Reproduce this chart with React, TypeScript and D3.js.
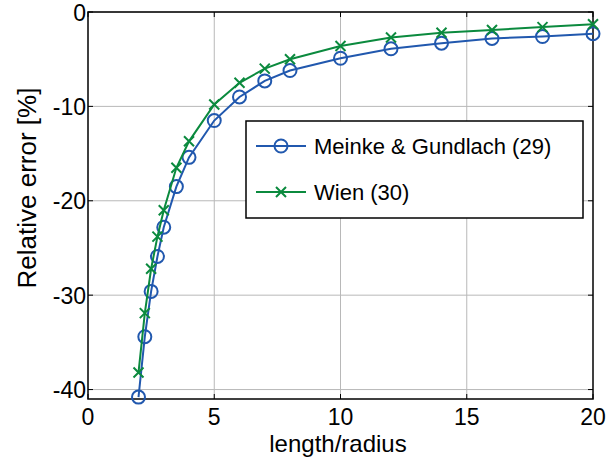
import React, { useEffect, useRef } from 'react';
import * as d3 from 'd3';

const ratios = [2, 2.25, 2.5, 2.75, 3, 3.5, 4, 5, 6, 7, 8, 10, 12, 14, 16, 18, 20];
const meinkeErr = [-40.8, -34.4, -29.6, -25.9, -22.8, -18.5, -15.4, -11.5, -9.0, -7.3, -6.2, -4.9, -3.9, -3.3, -2.8, -2.6, -2.3];
const wienErr = [-38.2, -31.9, -27.2, -23.8, -21.0, -16.5, -13.7, -9.8, -7.5, -6.0, -5.0, -3.6, -2.7, -2.2, -1.9, -1.6, -1.3];
const xTicks = [0, 5, 10, 15, 20];
const yTicks = [0, -10, -20, -30, -40];
const seriesNames = ['Meinke & Gundlach (29)', 'Wien (30)'];

const width = 616;
const height = 461;
const blue = '#2158ae';
const green = '#0b8a3e';
const font = '"Liberation Sans", Arial, sans-serif';

function App() {
  const ref = useRef<SVGSVGElement>(null);

  useEffect(() => {
    const svg = d3.select(ref.current);
    svg.selectAll('*').remove();

    const left = 88, right = 593, top = 12, bottom = 399;
    const x = d3.scaleLinear().domain([0, 20]).range([left, right]);
    const y = d3.scaleLinear().domain([-41, 0]).range([bottom, top]);

    svg.append('rect').attr('width', width).attr('height', height).attr('fill', 'white');

    // grid
    const grid = svg.append('g').attr('stroke', '#b8b8b8').attr('stroke-width', 1);
    xTicks.slice(1, -1).forEach((t) => {
      grid.append('line').attr('x1', x(t)).attr('x2', x(t)).attr('y1', top).attr('y2', bottom);
    });
    yTicks.forEach((t) => {
      grid.append('line').attr('x1', left).attr('x2', right).attr('y1', y(t)).attr('y2', y(t));
    });

    // ticks on all four sides, pointing in
    const ticks = svg.append('g').attr('stroke', 'black').attr('stroke-width', 1);
    xTicks.forEach((t) => {
      ticks.append('line').attr('x1', x(t)).attr('x2', x(t)).attr('y1', bottom).attr('y2', bottom - 5);
      ticks.append('line').attr('x1', x(t)).attr('x2', x(t)).attr('y1', top).attr('y2', top + 5);
    });
    yTicks.forEach((t) => {
      ticks.append('line').attr('x1', left).attr('x2', left + 5).attr('y1', y(t)).attr('y2', y(t));
      ticks.append('line').attr('x1', right).attr('x2', right - 5).attr('y1', y(t)).attr('y2', y(t));
    });

    svg.append('rect')
      .attr('x', left).attr('y', top)
      .attr('width', right - left).attr('height', bottom - top)
      .attr('fill', 'none').attr('stroke', 'black').attr('stroke-width', 1.5);

    // tick labels
    svg.append('g').selectAll('text').data(xTicks).enter().append('text')
      .attr('x', (d) => x(d)).attr('y', 425)
      .attr('text-anchor', 'middle')
      .style('font', '23px ' + font)
      .text((d) => d);

    svg.append('g').selectAll('text').data(yTicks).enter().append('text')
      .attr('x', left - 2).attr('y', (d) => y(d) + 8.5)
      .attr('text-anchor', 'end')
      .style('font', '23px ' + font)
      .text((d) => d);

    svg.append('text')
      .attr('x', 338).attr('y', 452)
      .attr('text-anchor', 'middle')
      .style('font', '24px ' + font)
      .text('length/radius');

    svg.append('text')
      .attr('transform', 'translate(36,188) rotate(-90)')
      .attr('text-anchor', 'middle')
      .style('font', '26px ' + font)
      .text('Relative error [%]');

    const line = d3.line<[number, number]>().x((d) => x(d[0])).y((d) => y(d[1]));
    const blueData = ratios.map((r, i) => [r, meinkeErr[i]] as [number, number]);
    const greenData = ratios.map((r, i) => [r, wienErr[i]] as [number, number]);

    const drawCross = (g: any, cx: number, cy: number, color: string) => {
      const s = 5;
      g.append('path')
        .attr('d', `M${cx - s},${cy - s}L${cx + s},${cy + s}M${cx - s},${cy + s}L${cx + s},${cy - s}`)
        .attr('stroke', color).attr('stroke-width', 2).attr('fill', 'none');
    };
    const drawCircle = (g: any, cx: number, cy: number, color: string) => {
      g.append('circle').attr('cx', cx).attr('cy', cy).attr('r', 6.5)
        .attr('stroke', color).attr('stroke-width', 2).attr('fill', 'none');
    };

    const plot = svg.append('g');
    plot.append('path').datum(blueData).attr('d', line).attr('fill', 'none')
      .attr('stroke', blue).attr('stroke-width', 2);
    blueData.forEach((d) => drawCircle(plot, x(d[0]), y(d[1]), blue));

    plot.append('path').datum(greenData).attr('d', line).attr('fill', 'none')
      .attr('stroke', green).attr('stroke-width', 2);
    greenData.forEach((d) => drawCross(plot, x(d[0]), y(d[1]), green));

    // legend
    const lg = svg.append('g');
    lg.append('rect').attr('x', 246).attr('y', 121).attr('width', 337).attr('height', 97)
      .attr('fill', 'white').attr('stroke', 'black').attr('stroke-width', 1.5);
    const rows = [146, 192];
    const colors = [blue, green];
    seriesNames.forEach((name, i) => {
      lg.append('line').attr('x1', 256).attr('x2', 306).attr('y1', rows[i]).attr('y2', rows[i])
        .attr('stroke', colors[i]).attr('stroke-width', 2);
      if (i === 0) drawCircle(lg, 281, rows[i], colors[i]);
      else drawCross(lg, 281, rows[i], colors[i]);
      lg.append('text').attr('x', 314).attr('y', rows[i] + 8)
        .style('font', '22px ' + font)
        .text(name);
    });
  }, []);

  return (
    <svg
      ref={ref}
      width={width}
      height={height}
      style={{ position: 'absolute', left: 0, top: 0 }}
    />
  );
}

export default App;
